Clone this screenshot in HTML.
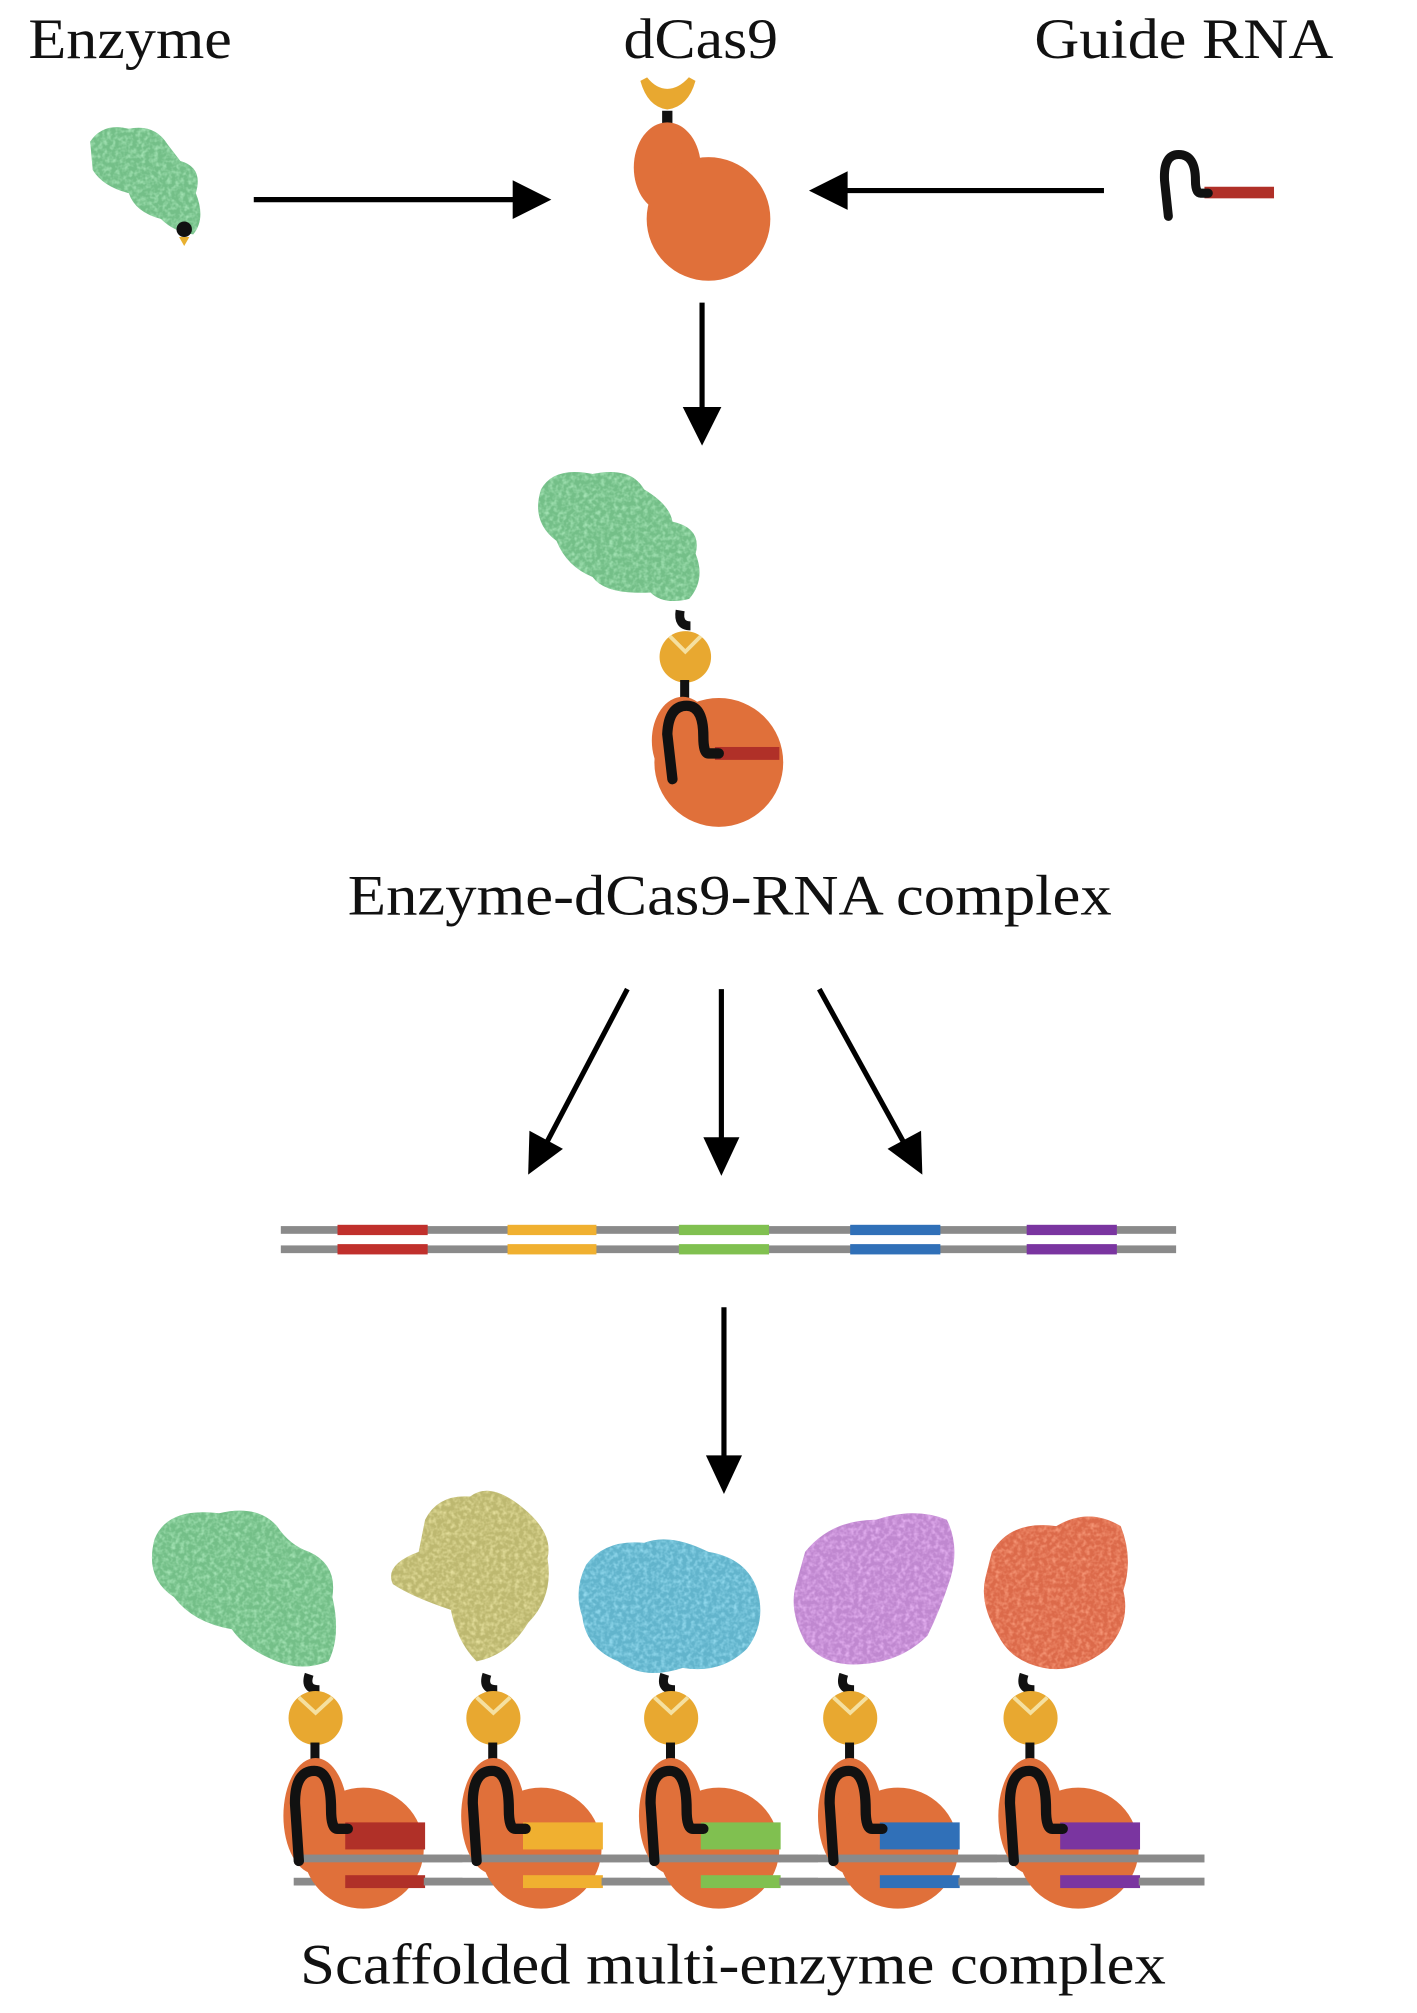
<!DOCTYPE html>
<html><head><meta charset="utf-8"><style>html,body{margin:0;padding:0;background:#fff}svg{display:block}</style></head><body>
<svg width="1417" height="2013" viewBox="0 0 1100 1563" preserveAspectRatio="none" xmlns="http://www.w3.org/2000/svg">
<defs>
<filter id="tex"><feTurbulence type="fractalNoise" baseFrequency="0.3" numOctaves="2" result="n"/><feColorMatrix in="n" type="matrix" values="0 0 0 0 0  0 0 0 0 0  0 0 0 0 0  0 0 0 -2 1.2" result="m"/><feComposite in="SourceGraphic" in2="m" operator="in"/></filter>
</defs>
<g font-family="Liberation Serif, serif" font-size="44" fill="#111">
<text x="22" y="45" textLength="158" lengthAdjust="spacingAndGlyphs">Enzyme</text>
<text x="484" y="45" textLength="120" lengthAdjust="spacingAndGlyphs">dCas9</text>
<text x="803" y="45" textLength="232" lengthAdjust="spacingAndGlyphs">Guide RNA</text>
<text x="270" y="710" textLength="593" lengthAdjust="spacingAndGlyphs">Enzyme-dCas9-RNA complex</text>
<text x="233" y="1540" textLength="672" lengthAdjust="spacingAndGlyphs">Scaffolded multi-enzyme complex</text>
</g>
<g stroke="#000" stroke-width="4" fill="none">
<line x1="197" y1="155" x2="400" y2="155"/>
<line x1="857" y1="148" x2="655" y2="148"/>
<line x1="545" y1="235" x2="545" y2="320"/>
<line x1="487" y1="768" x2="425" y2="886"/>
<line x1="560" y1="768" x2="560" y2="885"/>
<line x1="636" y1="768" x2="701" y2="886"/>
<line x1="562" y1="1015" x2="562" y2="1135"/>
</g>
<g fill="#000">
<polygon points="428,155 398,140 398,170"/>
<polygon points="628,148 658,133 658,163"/>
<polygon points="545,346 530,316 560,316"/>
<polygon points="410,912 411,878 437,892"/>
<polygon points="560,913 546,883 574,883"/>
<polygon points="716,912 689,892 715,878"/>
<polygon points="562,1160 548,1130 576,1130"/>
</g>
<path d="M70,110 Q80,95 100,100 Q120,96 130,112 L140,125 Q158,130 152,150 Q160,170 150,182 Q135,180 125,170 Q105,165 100,150 Q80,145 72,132 Z" fill="#74bf88"/>
<path d="M70,110 Q80,95 100,100 Q120,96 130,112 L140,125 Q158,130 152,150 Q160,170 150,182 Q135,180 125,170 Q105,165 100,150 Q80,145 72,132 Z" fill="#a8e6b8" filter="url(#tex)"/>
<circle cx="143" cy="178" r="6" fill="#111"/><path d="M139,184 L147,184 L143,191 Z" fill="#e8b030"/>
<path d="M500,62 Q505,80 518,82 Q532,80 537,62 Q528,72 518,72 Q508,72 500,62 Z" fill="#e8a830" stroke="#e8a830" stroke-width="6"/>
<rect x="514" y="86" width="8" height="12" fill="#111"/>
<ellipse cx="518" cy="130" rx="26" ry="35" fill="#e0703a"/>
<circle cx="550" cy="170" r="48" fill="#e0703a"/>
<rect x="935" y="145" width="54" height="9" fill="#b03028"/>
<path d="M938,150 L932,150 Q928,150 928,140 Q928,120 915,120 Q903,120 904,140 L907,168" stroke="#111" stroke-width="7" fill="none" stroke-linecap="round"/>
<path d="M420,380 Q430,362 460,368 Q490,362 500,380 Q520,392 522,405 Q545,410 540,430 Q548,450 535,465 Q515,470 505,460 Q470,462 460,448 Q440,440 432,420 Q412,405 420,380 Z" fill="#74bf88"/>
<path d="M420,380 Q430,362 460,368 Q490,362 500,380 Q520,392 522,405 Q545,410 540,430 Q548,450 535,465 Q515,470 505,460 Q470,462 460,448 Q440,440 432,420 Q412,405 420,380 Z" fill="#a8e6b8" filter="url(#tex)"/>
<path d="M528,474 Q526,486 536,486" stroke="#111" stroke-width="7" fill="none"/>
<circle cx="532" cy="510" r="20" fill="#e8a830"/>
<path d="M520,494 L532,506 L544,494" stroke="#f5e0a0" stroke-width="3" fill="none"/>
<rect x="528" y="528" width="7" height="14" fill="#111"/>
<ellipse cx="530" cy="575" rx="24" ry="34" fill="#e0703a"/>
<circle cx="558" cy="592" r="50" fill="#e0703a"/>
<rect x="555" y="580" width="50" height="10" fill="#b03028"/>
<path d="M558,585 L550,585 Q546,585 546,572 Q546,548 533,548 Q519,548 518,570 L522,605" stroke="#111" stroke-width="8" fill="none" stroke-linecap="round"/>
<rect x="218" y="952" width="695" height="6" fill="#8a8a8a"/>
<rect x="218" y="967" width="695" height="6" fill="#8a8a8a"/>
<rect x="262" y="951" width="70" height="8" fill="#c0302c"/><rect x="262" y="966" width="70" height="8" fill="#c0302c"/>
<rect x="394" y="951" width="69" height="8" fill="#f0b030"/><rect x="394" y="966" width="69" height="8" fill="#f0b030"/>
<rect x="527" y="951" width="70" height="8" fill="#80c050"/><rect x="527" y="966" width="70" height="8" fill="#80c050"/>
<rect x="660" y="951" width="70" height="8" fill="#3070b8"/><rect x="660" y="966" width="70" height="8" fill="#3070b8"/>
<rect x="797" y="951" width="70" height="8" fill="#7a35a0"/><rect x="797" y="966" width="70" height="8" fill="#7a35a0"/>
<g>
<path d="M120,1195 Q130,1170 170,1175 Q200,1168 215,1185 Q225,1200 240,1205 Q262,1215 258,1240 Q265,1270 255,1290 Q235,1298 215,1290 Q190,1280 180,1265 Q150,1260 135,1240 Q112,1225 120,1195 Z" fill="#74bf88"/>
<path d="M330,1180 Q340,1160 365,1162 Q380,1150 405,1170 Q430,1190 425,1210 Q430,1240 410,1260 Q395,1285 370,1290 Q355,1275 350,1250 Q320,1240 305,1230 Q298,1215 325,1205 Z" fill="#bdb870"/>
<path d="M455,1215 Q470,1195 500,1198 Q520,1190 550,1205 Q580,1210 588,1235 Q595,1260 580,1280 Q560,1300 530,1295 Q500,1305 480,1290 Q455,1280 452,1255 Q445,1235 455,1215 Z" fill="#62b4cc"/>
<path d="M625,1205 Q645,1180 680,1180 Q710,1170 735,1180 Q745,1200 738,1225 Q730,1250 720,1270 Q700,1290 670,1292 Q640,1295 625,1275 Q612,1250 618,1230 Z" fill="#c088d0"/>
<path d="M770,1205 Q785,1180 820,1185 Q845,1170 870,1185 Q880,1210 872,1235 Q878,1260 860,1280 Q835,1300 810,1295 Q785,1290 775,1270 Q760,1245 765,1225 Z" fill="#dc6a4a"/>
</g>
<g filter="url(#tex)">
<path d="M120,1195 Q130,1170 170,1175 Q200,1168 215,1185 Q225,1200 240,1205 Q262,1215 258,1240 Q265,1270 255,1290 Q235,1298 215,1290 Q190,1280 180,1265 Q150,1260 135,1240 Q112,1225 120,1195 Z" fill="#a8e6b8"/>
<path d="M330,1180 Q340,1160 365,1162 Q380,1150 405,1170 Q430,1190 425,1210 Q430,1240 410,1260 Q395,1285 370,1290 Q355,1275 350,1250 Q320,1240 305,1230 Q298,1215 325,1205 Z" fill="#e8e2a0"/>
<path d="M455,1215 Q470,1195 500,1198 Q520,1190 550,1205 Q580,1210 588,1235 Q595,1260 580,1280 Q560,1300 530,1295 Q500,1305 480,1290 Q455,1280 452,1255 Q445,1235 455,1215 Z" fill="#96dcf0"/>
<path d="M625,1205 Q645,1180 680,1180 Q710,1170 735,1180 Q745,1200 738,1225 Q730,1250 720,1270 Q700,1290 670,1292 Q640,1295 625,1275 Q612,1250 618,1230 Z" fill="#e8b4f4"/>
<path d="M770,1205 Q785,1180 820,1185 Q845,1170 870,1185 Q880,1210 872,1235 Q878,1260 860,1280 Q835,1300 810,1295 Q785,1290 775,1270 Q760,1245 765,1225 Z" fill="#f89a7a"/>
</g>
<rect x="228" y="1440" width="707" height="6" fill="#8a8a8a"/>
<rect x="228" y="1458" width="707" height="6" fill="#8a8a8a"/>
<g>
<path d="M240,1300 Q236,1312 248,1312" stroke="#111" stroke-width="7" fill="none"/>
<circle cx="245" cy="1334" r="21" fill="#e8a830"/>
<path d="M232,1318 L245,1330 L258,1318" stroke="#f5e0a0" stroke-width="3" fill="none"/>
<rect x="241" y="1353" width="7" height="14" fill="#111"/>
<ellipse cx="245" cy="1410" rx="25" ry="45" fill="#e0703a"/>
<circle cx="282" cy="1435" r="47" fill="#e0703a"/>
<rect x="268" y="1415" width="62" height="21" fill="#b03028"/>
<rect x="232" y="1440" width="98" height="6" fill="#8a8a8a"/>
<rect x="268" y="1456" width="62" height="10" fill="#b03028"/>
<path d="M270,1420 L262,1420 Q257,1420 257,1405 Q257,1375 244,1375 Q229,1375 229,1400 L232,1445" stroke="#111" stroke-width="8" fill="none" stroke-linecap="round"/>
</g>
<g transform="translate(138,0)">
<path d="M240,1300 Q236,1312 248,1312" stroke="#111" stroke-width="7" fill="none"/>
<circle cx="245" cy="1334" r="21" fill="#e8a830"/>
<path d="M232,1318 L245,1330 L258,1318" stroke="#f5e0a0" stroke-width="3" fill="none"/>
<rect x="241" y="1353" width="7" height="14" fill="#111"/>
<ellipse cx="245" cy="1410" rx="25" ry="45" fill="#e0703a"/>
<circle cx="282" cy="1435" r="47" fill="#e0703a"/>
<rect x="268" y="1415" width="62" height="21" fill="#f0b030"/>
<rect x="232" y="1440" width="98" height="6" fill="#8a8a8a"/>
<rect x="268" y="1456" width="62" height="10" fill="#f0b030"/>
<path d="M270,1420 L262,1420 Q257,1420 257,1405 Q257,1375 244,1375 Q229,1375 229,1400 L232,1445" stroke="#111" stroke-width="8" fill="none" stroke-linecap="round"/>
</g>
<g transform="translate(276,0)">
<path d="M240,1300 Q236,1312 248,1312" stroke="#111" stroke-width="7" fill="none"/>
<circle cx="245" cy="1334" r="21" fill="#e8a830"/>
<path d="M232,1318 L245,1330 L258,1318" stroke="#f5e0a0" stroke-width="3" fill="none"/>
<rect x="241" y="1353" width="7" height="14" fill="#111"/>
<ellipse cx="245" cy="1410" rx="25" ry="45" fill="#e0703a"/>
<circle cx="282" cy="1435" r="47" fill="#e0703a"/>
<rect x="268" y="1415" width="62" height="21" fill="#80c050"/>
<rect x="232" y="1440" width="98" height="6" fill="#8a8a8a"/>
<rect x="268" y="1456" width="62" height="10" fill="#80c050"/>
<path d="M270,1420 L262,1420 Q257,1420 257,1405 Q257,1375 244,1375 Q229,1375 229,1400 L232,1445" stroke="#111" stroke-width="8" fill="none" stroke-linecap="round"/>
</g>
<g transform="translate(415,0)">
<path d="M240,1300 Q236,1312 248,1312" stroke="#111" stroke-width="7" fill="none"/>
<circle cx="245" cy="1334" r="21" fill="#e8a830"/>
<path d="M232,1318 L245,1330 L258,1318" stroke="#f5e0a0" stroke-width="3" fill="none"/>
<rect x="241" y="1353" width="7" height="14" fill="#111"/>
<ellipse cx="245" cy="1410" rx="25" ry="45" fill="#e0703a"/>
<circle cx="282" cy="1435" r="47" fill="#e0703a"/>
<rect x="268" y="1415" width="62" height="21" fill="#3070b8"/>
<rect x="232" y="1440" width="98" height="6" fill="#8a8a8a"/>
<rect x="268" y="1456" width="62" height="10" fill="#3070b8"/>
<path d="M270,1420 L262,1420 Q257,1420 257,1405 Q257,1375 244,1375 Q229,1375 229,1400 L232,1445" stroke="#111" stroke-width="8" fill="none" stroke-linecap="round"/>
</g>
<g transform="translate(555,0)">
<path d="M240,1300 Q236,1312 248,1312" stroke="#111" stroke-width="7" fill="none"/>
<circle cx="245" cy="1334" r="21" fill="#e8a830"/>
<path d="M232,1318 L245,1330 L258,1318" stroke="#f5e0a0" stroke-width="3" fill="none"/>
<rect x="241" y="1353" width="7" height="14" fill="#111"/>
<ellipse cx="245" cy="1410" rx="25" ry="45" fill="#e0703a"/>
<circle cx="282" cy="1435" r="47" fill="#e0703a"/>
<rect x="268" y="1415" width="62" height="21" fill="#7a35a0"/>
<rect x="232" y="1440" width="98" height="6" fill="#8a8a8a"/>
<rect x="268" y="1456" width="62" height="10" fill="#7a35a0"/>
<path d="M270,1420 L262,1420 Q257,1420 257,1405 Q257,1375 244,1375 Q229,1375 229,1400 L232,1445" stroke="#111" stroke-width="8" fill="none" stroke-linecap="round"/>
</g>
<g fill="#8a8a8a">
<rect x="329" y="1440" width="30" height="6"/><rect x="329" y="1458" width="30" height="6"/>
<rect x="467" y="1440" width="30" height="6"/><rect x="467" y="1458" width="30" height="6"/>
<rect x="605" y="1440" width="30" height="6"/><rect x="605" y="1458" width="30" height="6"/>
<rect x="744" y="1440" width="30" height="6"/><rect x="744" y="1458" width="30" height="6"/>
<rect x="884" y="1440" width="51" height="6"/><rect x="884" y="1458" width="51" height="6"/>
</g>
</svg>
</body></html>
